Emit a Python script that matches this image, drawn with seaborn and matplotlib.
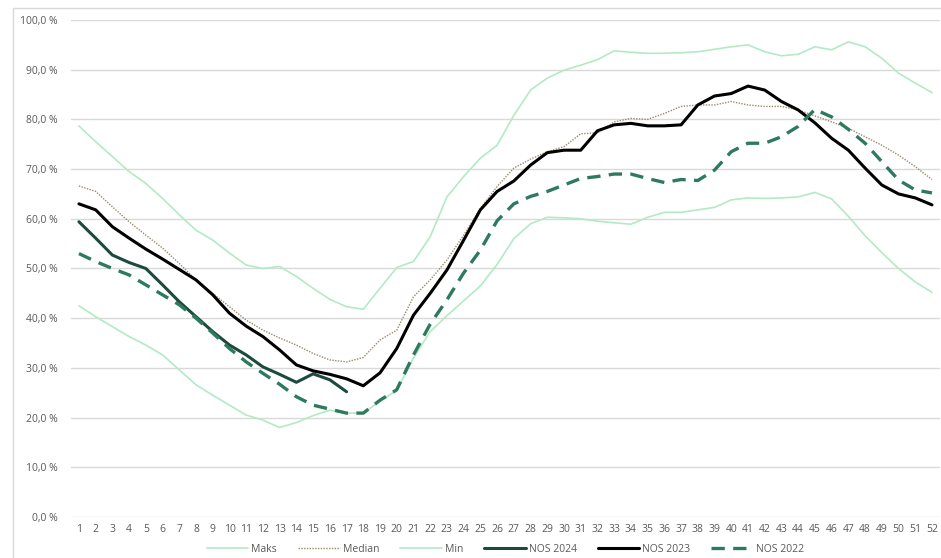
import numpy as np
import pandas as pd
import seaborn as sns
import matplotlib.pyplot as plt
from matplotlib.patches import Rectangle
from matplotlib.ticker import FuncFormatter

weeks = list(range(1, 53))

maks = [78.7, 75.5, 72.5, 69.5, 67.1, 64.1, 60.8, 57.7, 55.7, 53.1,
        50.7, 50.0, 50.4, 48.4, 46.0, 43.8, 42.3, 41.8, 46.0, 50.2,
        51.4, 56.4, 64.4, 68.5, 72.2, 74.8, 80.8, 85.9, 88.3, 89.9,
        90.9, 92.0, 93.8, 93.5, 93.3, 93.3, 93.4, 93.6, 94.1, 94.6,
        95.0, 93.6, 92.8, 93.1, 94.6, 94.0, 95.6, 94.6, 92.3, 89.3,
        87.3, 85.4]

median = [66.6, 65.5, 62.4, 59.4, 56.7, 54.1, 51.0, 47.7, 45.0, 42.3,
          39.6, 37.6, 36.0, 34.6, 32.9, 31.6, 31.2, 32.1, 35.6, 37.6,
          44.3, 47.7, 51.7, 56.7, 62.1, 66.5, 70.2, 72.0, 73.5, 74.5,
          77.1, 77.3, 79.5, 80.2, 80.0, 81.2, 82.6, 82.9, 82.9, 83.6,
          82.9, 82.6, 82.6, 81.9, 80.7, 79.5, 78.2, 76.5, 74.8, 72.8,
          70.5, 67.9]

minimum = [42.5, 40.3, 38.3, 36.3, 34.6, 32.6, 29.6, 26.6, 24.5, 22.5,
           20.5, 19.5, 18.0, 19.0, 20.4, 21.5, 20.9, 20.9, 23.3, 25.5,
           32.0, 37.3, 40.5, 43.5, 46.5, 50.8, 56.0, 59.0, 60.3, 60.2,
           60.0, 59.5, 59.2, 58.9, 60.3, 61.3, 61.3, 61.8, 62.3, 63.8,
           64.2, 64.1, 64.2, 64.4, 65.3, 64.0, 60.5, 56.6, 53.2, 50.0,
           47.3, 45.2]

nos_2024 = [59.4, 56.1, 52.7, 51.2, 50.0, 46.7, 43.3, 40.3, 37.3, 34.6,
            32.6, 30.2, 28.7, 27.1, 28.8, 27.6, 25.2]

nos_2023 = [63.0, 61.8, 58.4, 56.1, 53.9, 51.9, 49.8, 47.7, 44.7, 41.0,
            38.4, 36.3, 33.6, 30.6, 29.4, 28.7, 27.8, 26.4, 29.0, 33.9,
            40.6, 45.0, 49.7, 55.7, 61.8, 65.5, 67.6, 70.8, 73.3, 73.8,
            73.8, 77.7, 78.9, 79.2, 78.7, 78.7, 78.9, 82.9, 84.7, 85.2,
            86.7, 85.9, 83.6, 81.9, 79.3, 76.2, 73.8, 70.2, 66.8, 65.0,
            64.2, 62.8]

nos_2022 = [53.0, 51.4, 50.0, 48.7, 46.7, 44.7, 42.7, 40.0, 37.0, 33.9,
            31.2, 28.9, 26.7, 24.2, 22.5, 21.7, 20.9, 20.9, 23.5, 25.6,
            32.6, 38.8, 43.7, 49.1, 53.7, 59.6, 63.0, 64.5, 65.5, 66.8,
            68.1, 68.5, 69.0, 69.0, 68.1, 67.3, 67.9, 67.7, 69.8, 73.5,
            75.2, 75.2, 76.5, 78.6, 82.0, 80.5, 78.0, 75.2, 71.5, 67.8,
            65.8, 65.2]

sns.set_style("white")
plt.rcParams['font.family'] = ['Open Sans', 'DejaVu Sans']

fig = plt.figure(figsize=(9.41, 5.58), dpi=100)
ax = fig.add_axes([0.075, 0.0735, 0.9243, 0.8907])

# chart area frame
fig.patches.append(Rectangle((13 / 941, -0.01), 1.0, 1 - 8 / 558 + 0.01,
                             transform=fig.transFigure, fill=False,
                             edgecolor='#d9d9d9', linewidth=1.0, zorder=0))

light = '#b3eac6'
sns.lineplot(x=weeks, y=maks, ax=ax, color=light, linewidth=1.2, label='Maks')
sns.lineplot(x=weeks, y=median, ax=ax, color='#9b8a6c', linewidth=1.0,
             linestyle=(0, (1, 1)), label='Median')
sns.lineplot(x=weeks, y=minimum, ax=ax, color=light, linewidth=1.2, label='Min')
sns.lineplot(x=weeks[:len(nos_2024)], y=nos_2024, ax=ax, color='#1c4a3e',
             linewidth=2.2, label='NOS 2024')
sns.lineplot(x=weeks, y=nos_2023, ax=ax, color='black', linewidth=2.2,
             label='NOS 2023')
sns.lineplot(x=weeks, y=nos_2022, ax=ax, color='#2e7a5e', linewidth=2.4,
             linestyle=(0, (4, 2.5)), label='NOS 2022')

ax.set_xlim(0.5, 52.5)
ax.set_ylim(0, 100)
ax.set_xticks(weeks)
ax.set_yticks(np.arange(0, 101, 10))
ax.yaxis.set_major_formatter(FuncFormatter(lambda v, p: f"{v:.1f}".replace('.', ',') + ' %'))
ax.grid(axis='y', color='#d9d9d9', linewidth=1.0)
ax.set_axisbelow(True)
for s in ax.spines.values():
    s.set_visible(False)
ax.tick_params(axis='both', length=0, labelsize=7.5, colors='#595959')
ax.tick_params(axis='y', pad=9)
ax.tick_params(axis='x', pad=5)
ax.set_xlabel('')
ax.set_ylabel('')

leg = ax.legend(loc='upper center', bbox_to_anchor=(0.5, -0.035), ncol=6,
                frameon=False, fontsize=7.5, handlelength=4.0,
                columnspacing=2.0, handletextpad=0.3)
for t in leg.get_texts():
    t.set_color('#595959')

fig.savefig('out.png', dpi=100)
